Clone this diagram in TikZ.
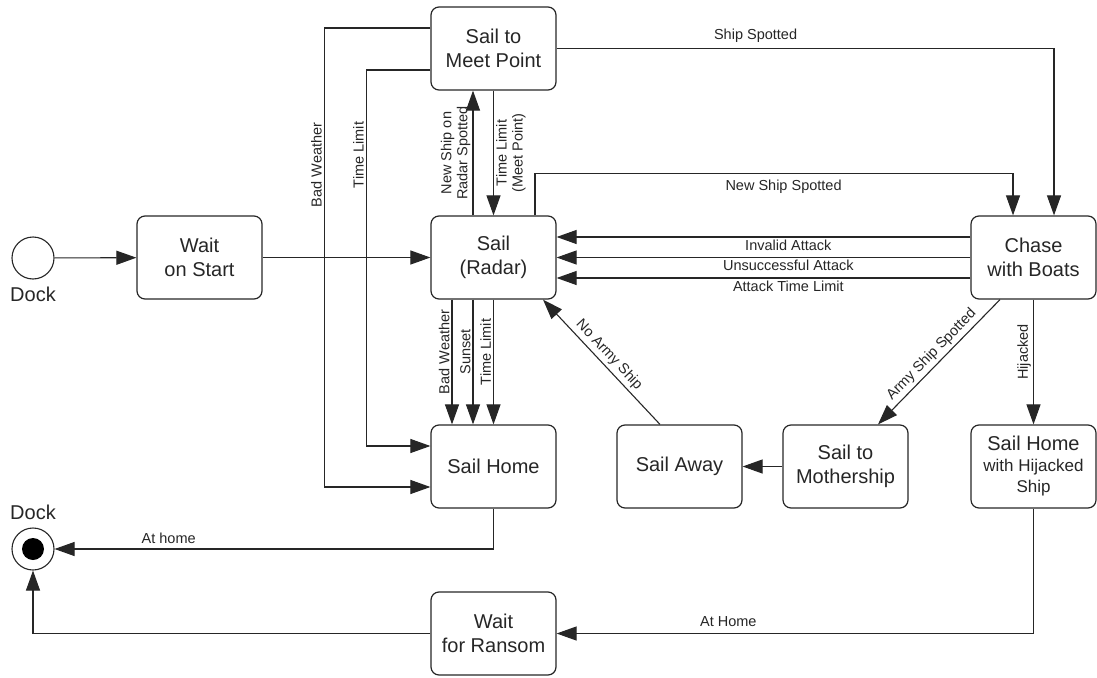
\documentclass[tikz,border=0pt]{standalone}
\usepackage{fontspec}
\setmainfont{Liberation Sans}
\usetikzlibrary{arrows.meta}
\begin{document}
\begin{tikzpicture}[x=1pt,y=-1pt,
  state/.style={draw=black!85, line width=1.2pt, rounded corners=8pt, minimum width=125pt, minimum height=83pt, inner sep=0pt, align=center, font=\fontsize{20}{24}\selectfont, text=black!85},
  conn/.style={draw=black!85, line width=1.1pt, -{Triangle[length=20pt,width=14pt]}},
  elab/.style={font=\fontsize{14.5}{16}\selectfont, inner sep=2pt, text=black!85, align=center},
  dlab/.style={font=\fontsize{20}{24}\selectfont, inner sep=0pt, text=black!85},
  vlab/.style={elab, rotate=90},
]
\useasboundingbox (0,0) rectangle (1097,677);
% states
\node[state] (smp) at (493.5,48.5) {Sail to\\Meet Point};
\node[state] (wait) at (199.5,257.5) {Wait\\on Start};
\node[state] (sail) at (493.5,257.5) {Sail\\(Radar)};
\node[state] (chase) at (1033.5,257.5) {Chase\\with Boats};
\node[state] (home) at (493.5,466.5) {Sail Home};
\node[state] (away) at (679.5,466.5) {Sail Away};
\node[state] (moth) at (845.5,466.5) {Sail to\\Mothership};
\node[state] (hij) at (1033.5,466.5) {Sail Home\\[-3pt]{\fontsize{17}{20}\selectfont with Hijacked}\\[-3pt]{\fontsize{17}{20}\selectfont Ship}};
\node[state] (ransom) at (493.5,633.5) {Wait\\for Ransom};
% pseudo states
\node[draw=black!85, circle, minimum size=42pt, line width=1.1pt, inner sep=0pt] (start) at (33,258) {};
\node[dlab] (startlbl) at (33,294) {Dock};
\node[draw=black!85, circle, minimum size=42pt, line width=1.1pt, inner sep=0pt] (end) at (33,549) {};
\node[fill=black, circle, minimum size=22pt, inner sep=0pt] (endin) at (end) {};
\node[dlab] (endlbl) at (33,512) {Dock};
% connectors
\draw[conn] (start) -- (wait);
\draw[conn] (wait) -- (sail);
\draw[conn] ([xshift=-20.5pt]sail.north) -- ([xshift=-20.5pt]smp.south)
  node[vlab, midway, anchor=south] {New Ship on\\Radar Spotted};
\draw[conn] (smp.south) -- (sail.north)
  node[vlab, midway, anchor=north] {Time Limit\\(Meet Point)};
\draw[conn] ([yshift=20.5pt]smp.west) -- ++(-106,0) |- ([yshift=-20.5pt]home.west);
\node[vlab, anchor=south] (bwlbl) at (324,165) {Bad Weather};
\draw[conn] ([yshift=-21.5pt]smp.west) -- ++(-64,0) |- ([yshift=20.5pt]home.west);
\node[vlab, anchor=south] (tllbl) at (366,155) {Time Limit};
\draw[conn] ([xshift=-41.5pt]sail.south) -- ([xshift=-41.5pt]home.north)
  node[vlab, pos=0.42, anchor=south] {Bad Weather};
\draw[conn] ([xshift=-20.5pt]sail.south) -- ([xshift=-20.5pt]home.north)
  node[vlab, pos=0.42, anchor=south] {Sunset};
\draw[conn] (sail.south) -- (home.north)
  node[vlab, pos=0.42, anchor=south] {Time Limit};
\draw[conn] (smp.east) -| ([xshift=20.5pt]chase.north)
  node[elab, pos=0.2, above=3pt] {Ship Spotted};
\draw[conn] ([xshift=41.5pt]sail.north) -- ++(0,-42) -| ([xshift=-20.5pt]chase.north)
  node[elab, pos=0.26, below=4pt] {New Ship Spotted};
\draw[conn] ([yshift=20.5pt]chase.west) -- ([yshift=20.5pt]sail.east)
  node[elab, pos=0.44, below=0pt] {Invalid Attack};
\draw[conn] (chase.west) -- (sail.east)
  node[elab, pos=0.44, below=0pt] {Unsuccessful Attack};
\draw[conn] ([yshift=-20.5pt]chase.west) -- ([yshift=-20.5pt]sail.east)
  node[elab, pos=0.44, below=0pt] {Attack Time Limit};
\draw[conn] ([xshift=-33.5pt]chase.south) -- ([xshift=32.5pt]moth.north)
  node[elab, midway, sloped, above=1pt] {Army Ship Spotted};
\draw[conn] (moth) -- (away);
\draw[conn] ([xshift=-19.5pt]away.north) -- ([xshift=49.5pt]sail.south)
  node[elab, midway, sloped, above=1pt] {No Army Ship};
\draw[conn] (chase.south) -- (hij.north)
  node[vlab, pos=0.42, anchor=south] {Hijacked};
\draw[conn] (hij.south) |- (ransom.east)
  node[elab, pos=0.82, above=4pt] {At Home};
\draw[conn] (home.south) |- (end.east)
  node[elab, pos=0.87, above=3pt] {At home};
\draw[conn] (ransom.west) -| (end.south);
\end{tikzpicture}
\end{document}
